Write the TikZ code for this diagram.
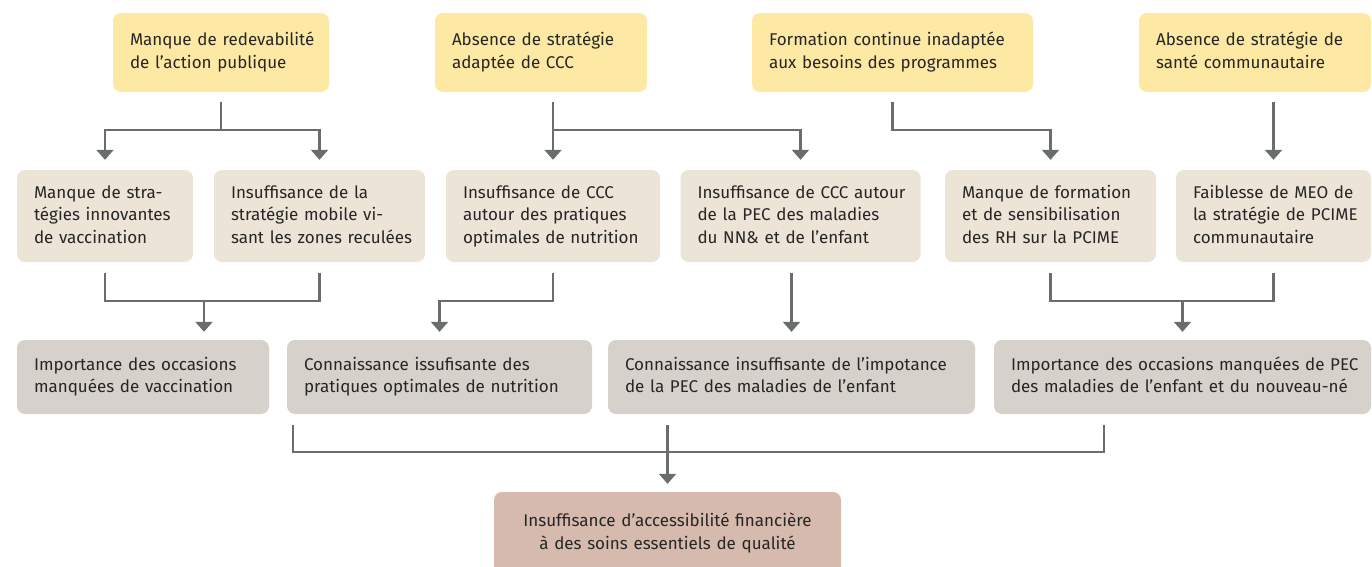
\documentclass[tikz,border=0pt]{standalone}
\usepackage{fontspec}
\setmainfont{Fira Sans}
\usetikzlibrary{arrows.meta,calc}

\definecolor{causeyellow}{HTML}{FDE9A3}
\definecolor{causebeige}{HTML}{ECE4D6}
\definecolor{effectgray}{HTML}{D6D2CB}
\definecolor{rootpink}{HTML}{D6BAAD}
\definecolor{linkgray}{HTML}{6A6D6D}
\definecolor{inkdark}{HTML}{262626}

% left-aligned and centred line stacks that never re-break
\newcommand{\lrows}[1]{\begin{tabular}{@{}l@{}}#1\end{tabular}}
\newcommand{\crows}[1]{\begin{tabular}{@{}c@{}}#1\end{tabular}}

\tikzset{
  cell/.style={rounded corners=8pt, inner xsep=17pt, inner ysep=0pt,
    align=left, text=inkdark, anchor=center,
    font=\fontsize{17}{22.5}\selectfont},
  topcell/.style={cell, fill=causeyellow, minimum height=79pt},
  midcell/.style={cell, fill=causebeige, minimum height=92pt},
  lowcell/.style={cell, fill=effectgray, minimum height=74pt},
  rootcell/.style={cell, fill=rootpink, minimum height=83pt, align=center},
  link/.style={draw=linkgray, line width=2.2pt},
  arrowlink/.style={link, -{Triangle[width=17pt,length=10pt]}},
}

\begin{document}
\begin{tikzpicture}[x=1pt, y=-1pt]
\useasboundingbox (0,0) rectangle (1372,566);

% first row: root causes
\node[topcell, text width=182pt] (T1) at (221,52.5)
  {\lrows{Manque de redevabilité\\de l’action publique}};
\node[topcell, text width=178pt] (T2) at (541,52.5)
  {\lrows{Absence de stratégie\\adaptée de CCC}};
\node[topcell, text width=247pt] (T3) at (892.5,52.5)
  {\lrows{Formation continue inadaptée\\aux besoins des programmes}};
\node[topcell, text width=198pt] (T4) at (1255,52.5)
  {\lrows{Absence de stratégie de\\santé communautaire}};

% second row
\node[midcell, text width=142pt] (M1) at (105,216)
  {\lrows{Manque de stra-\\tégies innovantes\\de vaccination}};
\node[midcell, text width=177pt] (M2) at (319.5,216)
  {\lrows{Insuffisance de la\\stratégie mobile vi-\\sant les zones reculées}};
\node[midcell, text width=180pt] (M3) at (553,216)
  {\lrows{Insuffisance de CCC\\autour des pratiques\\optimales de nutrition}};
\node[midcell, text width=206pt] (M4) at (800.5,216)
  {\lrows{Insuffisance de CCC autour\\de la PEC des maladies\\du NN\& et de l’enfant}};
\node[midcell, text width=177pt] (M5) at (1050.5,216)
  {\lrows{Manque de formation\\et de sensibilisation\\des RH sur la PCIME}};
\node[midcell, text width=161pt] (M6) at (1273.5,216)
  {\lrows{Faiblesse de MEO de\\la stratégie de PCIME\\communautaire}};

% third row
\node[lowcell, text width=218pt] (B1) at (143,377)
  {\lrows{Importance des occasions\\manquées de vaccination}};
\node[lowcell, text width=271pt] (B2) at (439.5,377)
  {\lrows{Connaissance issufisante des\\pratiques optimales de nutrition}};
\node[lowcell, text width=333pt] (B3) at (791.5,377)
  {\lrows{Connaissance insuffisante de l’impotance\\de la PEC des maladies de l’enfant}};
\node[lowcell, text width=343pt] (B4) at (1182.5,377)
  {\lrows{Importance des occasions manquées de PEC\\des maladies de l’enfant et du nouveau-né}};

% final consequence
\node[rootcell, text width=313pt] (F) at (667.5,533.5)
  {\crows{Insuffisance d’accessibilité financière\\à des soins essentiels de qualité}};

% first row to second row
\coordinate (j1) at ($(T1.south)+(0,38)$);
\draw[link] ($(T1.south)+(0,10)$) -- (j1);
\draw[arrowlink] (j1) -| ($(M1.north)+(0,-10)$);
\draw[arrowlink] (j1) -| ($(M2.north)+(0,-10)$);

\coordinate (j2) at ($(M3.north |- T2.south)+(0,38)$);
\draw[arrowlink] ($(M3.north |- T2.south)+(0,10)$) -- ($(M3.north)+(0,-10)$);
\draw[arrowlink] (j2) -| ($(M4.north)+(0,-10)$);

\draw[arrowlink] ($(T3.south)+(0,10)$) -- ++(0,28) -| ($(M5.north)+(0,-10)$);

\draw[arrowlink] ($(M6.north |- T4.south)+(0,10)$) -- ($(M6.north)+(0,-10)$);

% second row to third row
\coordinate (j3) at (204,301);
\draw[link] ($(M1.south)+(0,11)$) |- ($(M2.south)+(0,39)$) -- ($(M2.south)+(0,11)$);
\draw[arrowlink] (j3) -- (j3 |- {$(B1.north)+(0,-8)$});

\draw[arrowlink] ($(M3.south)+(0,11)$) -- ++(0,28) -| ($(B2.north)+(0,-8)$);

\draw[arrowlink] ($(B3.north |- M4.south)+(0,11)$) -- ($(B3.north)+(0,-8)$);

\coordinate (j4) at ($(B4.north)+(0,-39)$);
\draw[link] ($(M5.south)+(0,11)$) |- ($(M6.south)+(0,39)$) -- ($(M6.south)+(0,11)$);
\draw[arrowlink] (j4) -- ($(B4.north)+(0,-8)$);

% third row to final consequence
\coordinate (b2top) at (293,425);
\coordinate (b4top) at (1104,425);
\draw[link] (b2top) |- (b4top |- 0,452) -- (b4top);
\draw[arrowlink] ($(F.north |- B3.south)+(0,11)$) -- ($(F.north)+(0,-8)$);
\end{tikzpicture}
\end{document}
